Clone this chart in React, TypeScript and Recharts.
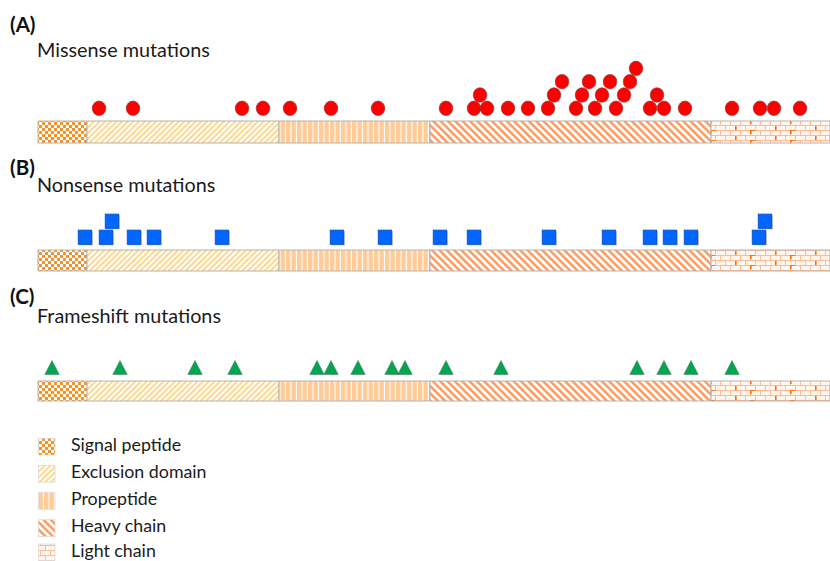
import React from "react";
import { ScatterChart, Scatter, XAxis, YAxis, ReferenceArea } from "recharts";

// ---- data (schematic position along the protein, 0..792) ----
const domainNames = ["Signal peptide", "Exclusion domain", "Propeptide", "Heavy chain", "Light chain"];
const domainStarts = [0, 49, 241, 392, 673];
const domainEnds = [49, 241, 392, 673, 792];
const proteinLength = 792;

// mutation positions, by stacking row (row 1 = lowest)
const missenseRow1 = [61, 95, 204, 225, 252, 293, 340, 408, 436, 449, 470, 490, 510, 538, 557, 578, 612, 626, 647, 694, 722, 736, 762];
const missenseRow2 = [442, 516, 544, 564, 586, 619];
const missenseRow3 = [524, 551, 572, 592];
const missenseRow4 = [598];

const nonsenseRow1 = [47, 68, 96, 116, 184, 299, 347, 402, 436, 511, 571, 612, 632, 653, 721];
const nonsenseRow2 = [74, 727];

const frameshiftRow1 = [14, 82, 157, 197, 279, 293, 320, 354, 367, 408, 463, 599, 626, 653, 694];

const toPoints = (rows: number[][]) =>
  rows.flatMap((xs, i) => xs.map((x) => ({ pos: x, level: i + 1 })));

const missenseData = toPoints([missenseRow1, missenseRow2, missenseRow3, missenseRow4]);
const nonsenseData = toPoints([nonsenseRow1, nonsenseRow2]);
const frameshiftData = toPoints([frameshiftRow1]);

const FONT = "Lato, 'Open Sans', sans-serif";

const CircleShape = (p: any) => (
  <ellipse cx={p.cx} cy={p.cy} rx={6.8} ry={7.3} fill="#FF0000" stroke="#7a3b3b" strokeWidth={0.6} />
);
const SquareShape = (p: any) => (
  <g>
    <rect x={p.cx - 6} y={p.cy - 6.5} width={14} height={14.5} fill="#b5b5b5" />
    <rect x={p.cx - 6.8} y={p.cy - 7.2} width={13.4} height={14.2} fill="#0066FF" stroke="#0050C8" strokeWidth={0.8} />
  </g>
);
const TriangleShape = (p: any) => (
  <polygon
    points={`${p.cx},${p.cy - 7} ${p.cx + 7.2},${p.cy + 7} ${p.cx - 7.2},${p.cy + 7}`}
    fill="#00A650"
    stroke="#4d7f66"
    strokeWidth={0.6}
  />
);

type PanelProps = {
  top: number;
  height: number;
  base: number;
  step: number;
  barTop: number;
  barBottom: number;
  data: { pos: number; level: number }[];
  shape: any;
};

function Panel({ top, height, base, step, barTop, barBottom, data, shape }: PanelProps) {
  const yMin = (base - (top + height)) / step;
  const yMax = (base - top) / step;
  const b1 = (base - barBottom) / step;
  const b2 = (base - barTop) / step;
  return (
    <div style={{ position: "absolute", left: 0, top, width: 830, height }}>
      <ScatterChart width={830} height={height} margin={{ top: 0, right: 0, bottom: 0, left: 38 }}>
        <XAxis type="number" dataKey="pos" domain={[0, proteinLength]} hide allowDataOverflow />
        <YAxis type="number" dataKey="level" domain={[yMin, yMax]} hide allowDataOverflow />
        {domainNames.map((n, i) => (
          <ReferenceArea
            key={n}
            x1={domainStarts[i]}
            x2={domainEnds[i]}
            y1={b1}
            y2={b2}
            fill={`url(#pat${i})`}
            fillOpacity={1}
            stroke="#b3b3b3"
            strokeWidth={1}
            ifOverflow="visible"
          />
        ))}
        <Scatter data={data} shape={shape} isAnimationActive={false} />
      </ScatterChart>
    </div>
  );
}

function Patterns() {
  return (
    <svg width={0} height={0} style={{ position: "absolute" }}>
      <defs>
        <pattern id="pat0" width={6} height={6} patternUnits="userSpaceOnUse">
          <rect width={6} height={6} fill="#ffffff" />
          <rect width={3} height={3} fill="#F5922A" />
          <rect x={3} y={3} width={3} height={3} fill="#F5922A" />
        </pattern>
        <pattern id="pat1" width={4} height={4} patternUnits="userSpaceOnUse" patternTransform="rotate(45)">
          <rect width={4} height={4} fill="#ffffff" />
          <rect width={1.7} height={4} fill="#FFD27A" />
        </pattern>
        <pattern id="pat2" width={5.5} height={10} patternUnits="userSpaceOnUse">
          <rect width={5.5} height={10} fill="#FFCB96" />
          <rect x={4.4} width={1.1} height={10} fill="#ffffff" />
        </pattern>
        <pattern id="pat3" width={5.2} height={5.2} patternUnits="userSpaceOnUse" patternTransform="rotate(-45)">
          <rect width={5.2} height={5.2} fill="#ffffff" />
          <rect width={2.5} height={5.2} fill="#FF9B5E" />
        </pattern>
        <pattern id="pat4" width={40} height={10} patternUnits="userSpaceOnUse">
          <rect width={40} height={10} fill="#FFF6EF" />
          <rect y={0} width={40} height={0.9} fill="#FFB58A" />
          <rect y={5} width={40} height={0.9} fill="#FFB58A" />
          {[0, 10, 20, 30].map((x) => (
            <rect key={"a" + x} x={x} y={0} width={0.9} height={5} fill="#FFB58A" />
          ))}
          {[5, 15, 25, 35].map((x) => (
            <rect key={"b" + x} x={x} y={5} width={0.9} height={5} fill="#FFB58A" />
          ))}
          <rect x={15} y={6} width={1.6} height={4} fill="#FF6A00" />
          <rect x={30} y={0} width={1.6} height={4} fill="#FF6A00" />
          <rect x={30} y={0} width={5} height={0.9} fill="#FF6A00" />
        </pattern>
      </defs>
    </svg>
  );
}

const legendBaselines = [451, 478.2, 505.2, 532.3, 556.5];

export default function App() {
  return (
    <div style={{ position: "absolute", left: 0, top: 0, width: 830, height: 561, background: "#fff", overflow: "hidden" }}>
      <Patterns />
      <Panel top={50} height={100} base={121.6} step={13.3} barTop={121} barBottom={143} data={missenseData} shape={CircleShape} />
      <Panel top={195} height={85} base={253.3} step={16} barTop={250} barBottom={271} data={nonsenseData} shape={SquareShape} />
      <Panel top={340} height={70} base={383.5} step={16} barTop={381} barBottom={401} data={frameshiftData} shape={TriangleShape} />
      <svg width={830} height={561} style={{ position: "absolute", left: 0, top: 0, pointerEvents: "none" }} fontFamily={FONT}>
        <text x={10} y={32} fontSize={20.5} fontWeight={700} fill="#111">(A)</text>
        <text x={37} y={57} fontSize={19.8} fill="#1a1a1a">Missense mutations</text>
        <text x={10} y={175} fontSize={20.5} fontWeight={700} fill="#111">(B)</text>
        <text x={37} y={191.5} fontSize={19.8} fill="#1a1a1a">Nonsense mutations</text>
        <text x={10} y={304} fontSize={20.5} fontWeight={700} fill="#111">(C)</text>
        <text x={37} y={323} fontSize={19.8} fill="#1a1a1a">Frameshift mutations</text>
        {domainNames.map((n, i) => (
          <g key={n}>
            <rect x={38.5} y={legendBaselines[i] - 12.5} width={16.5} height={16.5} fill={`url(#pat${i})`} stroke="#d0d0d0" strokeWidth={0.6} />
            <text x={71} y={legendBaselines[i]} fontSize={17.8} fill="#1a1a1a">{n}</text>
          </g>
        ))}
      </svg>
    </div>
  );
}
